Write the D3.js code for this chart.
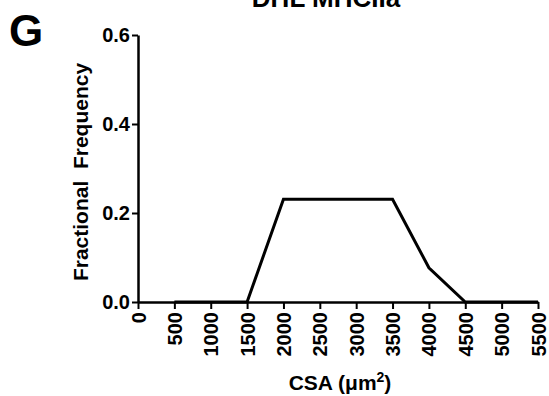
<!DOCTYPE html>
<html>
<head>
<meta charset="utf-8">
<script src="https://cdn.jsdelivr.net/npm/d3@7"></script>
<style>
  body { margin: 0; background: #fff; }
  svg { display: block; font-family: Arial, "Liberation Sans", sans-serif; font-weight: bold; }
</style>
</head>
<body>
<div id="chart"></div>
<script>
// bin centres (CSA, um^2) and fractional frequency per bin
const csaBins = [500, 1000, 1500, 2000, 2500, 3000, 3500, 4000, 4500, 5000, 5500];
const fracFreq = [0, 0, 0, 0.231, 0.231, 0.231, 0.231, 0.077, 0, 0, 0];
const xTicks = [0, 500, 1000, 1500, 2000, 2500, 3000, 3500, 4000, 4500, 5000, 5500];
const yTicks = [0.0, 0.2, 0.4, 0.6];

const width = 549, height = 396;
const margin = { top: 35, right: 11, bottom: 94, left: 138 };

const svg = d3.select("#chart").append("svg")
    .attr("width", width)
    .attr("height", height);

const x = d3.scaleLinear()
    .domain([0, 5500])
    .range([margin.left, width - margin.right]);

const y = d3.scaleLinear()
    .domain([0, 0.6])
    .range([height - margin.bottom, margin.top]);

// x axis
const xAxis = svg.append("g")
    .attr("transform", `translate(0,${y(0)})`)
    .call(d3.axisBottom(x).tickValues(xTicks).tickFormat(d3.format("d")).tickSize(7).tickSizeOuter(0));
xAxis.select(".domain").attr("stroke-width", 2.5);
xAxis.selectAll(".tick line").attr("stroke-width", 2);
xAxis.selectAll(".tick text")
    .attr("transform", "rotate(-90)")
    .attr("x", -10)
    .attr("y", 0)
    .attr("dy", "0.35em")
    .style("text-anchor", "end")
    .style("font-size", "20px")
    .style("font-weight", "bold")
    .attr("fill", "#000");

// y axis
const yAxis = svg.append("g")
    .attr("transform", `translate(${x(0)},0)`)
    .call(d3.axisLeft(y).tickValues(yTicks).tickFormat(d3.format(".1f")).tickSize(6).tickSizeOuter(0));
yAxis.select(".domain").attr("stroke-width", 2.5);
yAxis.selectAll(".tick line").attr("stroke-width", 2);
yAxis.selectAll(".tick text")
    .attr("x", -8)
    .style("font-size", "20px")
    .style("font-weight", "bold")
    .attr("fill", "#000");

// frequency polygon
const line = d3.line()
    .x((d, i) => x(csaBins[i]))
    .y(d => y(d));

svg.append("path")
    .datum(fracFreq)
    .attr("fill", "none")
    .attr("stroke", "#000")
    .attr("stroke-width", 3)
    .attr("stroke-linejoin", "miter")
    .attr("d", line);

// labels
const xLabel = svg.append("text")
    .attr("x", 340)
    .attr("y", 390)
    .attr("text-anchor", "middle")
    .style("font-size", "21px");
xLabel.append("tspan").text("CSA (\u03bcm");
xLabel.append("tspan").attr("dy", -8).style("font-size", "14px").text("2");
xLabel.append("tspan").attr("dy", 8).text(")");

svg.append("text")
    .attr("transform", "translate(88,172) rotate(-90)")
    .attr("text-anchor", "middle")
    .style("font-size", "21px")
    .style("white-space", "pre")
    .text("Fractional  Frequency");

svg.append("text")
    .attr("x", 9)
    .attr("y", 46)
    .style("font-size", "44px")
    .text("G");

svg.append("text")
    .attr("x", 326)
    .attr("y", 7)
    .attr("text-anchor", "middle")
    .style("font-size", "26px")
    .text("DHL MHCIIa");
</script>
</body>
</html>
